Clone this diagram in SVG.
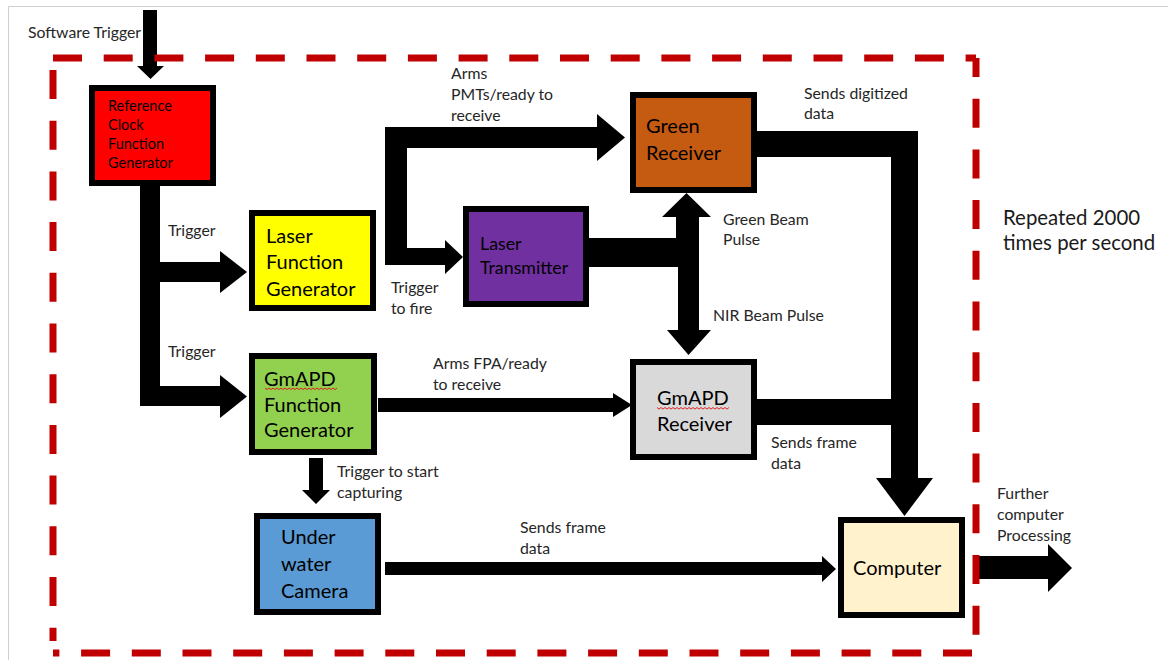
<svg xmlns="http://www.w3.org/2000/svg" width="1168" height="660" viewBox="0 0 1168 660">
  <style>
    .box { stroke: #000; stroke-width: 6; }
    .conn { fill: #000; }
    .bt { font-family: Lato, "Open Sans", "Liberation Sans", sans-serif; font-size: 20px; fill: #000; }
    .sm { font-family: Lato, "Open Sans", "Liberation Sans", sans-serif; font-size: 14.5px; fill: #000; }
    .lbl { font-family: Lato, "Open Sans", "Liberation Sans", sans-serif; font-size: 15.8px; fill: #262626; }
    .big { font-family: Lato, "Open Sans", "Liberation Sans", sans-serif; font-size: 20.4px; fill: #1a1a1a; }
    .dash { stroke: #C00000; stroke-width: 7; fill: none; stroke-dasharray: 29 21.7; }
    .squig { stroke: #E02020; stroke-width: 1; fill: none; }
  </style>

  <rect width="1168" height="660" fill="#fff"/>
  <path d="M8.5,660 V6.5 H1168" stroke="#cfcfcf" stroke-width="1" fill="none"/>

  <!-- connectors: thick block arrows -->
  <g id="connectors" class="conn">
    <path d="M143,10 H157 V66 H164 L150.5,79 L137,66 H143 Z"/>
    <path d="M140,186 H160 V262 H220 V251 L247,272 L220,293 V282 H160 V386 H220 V375 L247,396.5 L220,418 V406 H140 Z"/>
    <path d="M385,127 H597 V114 L625,137.5 L597,161 V148 H407 V248 H445 V240 L463,257 L445,274 V265 H385 Z"/>
    <path d="M589,238 H676 V217 H662 L686.5,193 L711,217 H699 V330 H711 L688.5,355 L667,330 H678 V267 H589 Z"/>
    <path d="M378,398 H613 V393 L632,405 L613,417 V412 H378 Z"/>
    <path d="M757,131 H918 V478 H933 L904.5,516 L876,478 H891 V157 H757 Z"/>
    <rect x="757" y="399" width="135" height="26"/>
    <path d="M309,458 H323 V490 H330 L316,504 L302,490 H309 Z"/>
    <path d="M385,562 H822 V556 L836,569 L822,582 V575 H385 Z"/>
    <path d="M975,556 H1048 V544 L1072,568 L1048,592 V579 H975 Z"/>
  </g>

  <!-- nodes -->
  <g id="ref-clock">
    <rect class="box" x="92" y="88" width="121" height="95" fill="#FF0000"/>
    <text class="sm" x="108" y="110.5">Reference</text>
    <text class="sm" x="108" y="129.5">Clock</text>
    <text class="sm" x="108" y="148.5">Function</text>
    <text class="sm" x="108" y="167.5">Generator</text>
  </g>

  <g id="laser-fg">
    <rect class="box" x="252" y="213" width="121" height="95" fill="#FFFF00"/>
    <text class="bt" x="266" y="242.7">Laser</text>
    <text class="bt" x="266" y="269.3">Function</text>
    <text class="bt" x="266" y="296">Generator</text>
  </g>

  <g id="gmapd-fg">
    <rect class="box" x="252" y="356" width="122" height="96" fill="#92D050"/>
    <text class="bt" x="264" y="385.7">GmAPD</text>
    <path class="squig" d="M265,388 l2,1.6 l2,-1.6 l2,1.6 l2,-1.6 l2,1.6 l2,-1.6 l2,1.6 l2,-1.6 l2,1.6 l2,-1.6 l2,1.6 l2,-1.6 l2,1.6 l2,-1.6 l2,1.6 l2,-1.6 l2,1.6 l2,-1.6 l2,1.6 l2,-1.6 l2,1.6 l2,-1.6 l2,1.6 l2,-1.6 l2,1.6 l2,-1.6 l2,1.6 l2,-1.6 l2,1.6 l2,-1.6 l2,1.6 l2,-1.6 l2,1.6 l2,-1.6 l2,1.6 l2,-1.6"/>
    <text class="bt" x="264" y="411.7">Function</text>
    <text class="bt" x="264" y="437.3">Generator</text>
  </g>

  <g id="laser-transmitter">
    <rect class="box" x="466" y="209" width="120" height="95" fill="#7030A0"/>
    <text class="bt" x="480" y="250" style="font-size:17.8px">Laser</text>
    <text class="bt" x="480" y="274.3" style="font-size:17.8px">Transmitter</text>
  </g>

  <g id="green-receiver">
    <rect class="box" x="633" y="95" width="121" height="95" fill="#C55A11"/>
    <text class="bt" x="646" y="133.3">Green</text>
    <text class="bt" x="646" y="160">Receiver</text>
  </g>

  <g id="gmapd-receiver">
    <rect class="box" x="633" y="362" width="121" height="95" fill="#D9D9D9"/>
    <text class="bt" x="657" y="405">GmAPD</text>
    <path class="squig" d="M657,407.5 l2,1.6 l2,-1.6 l2,1.6 l2,-1.6 l2,1.6 l2,-1.6 l2,1.6 l2,-1.6 l2,1.6 l2,-1.6 l2,1.6 l2,-1.6 l2,1.6 l2,-1.6 l2,1.6 l2,-1.6 l2,1.6 l2,-1.6 l2,1.6 l2,-1.6 l2,1.6 l2,-1.6 l2,1.6 l2,-1.6 l2,1.6 l2,-1.6 l2,1.6 l2,-1.6 l2,1.6 l2,-1.6 l2,1.6 l2,-1.6 l2,1.6 l2,-1.6 l2,1.6 l2,-1.6"/>
    <text class="bt" x="657" y="431">Receiver</text>
  </g>

  <g id="camera">
    <rect class="box" x="257" y="516" width="121" height="96" fill="#5B9BD5"/>
    <text class="bt" x="281" y="544.3">Under</text>
    <text class="bt" x="281" y="570.7">water</text>
    <text class="bt" x="281" y="597.7">Camera</text>
  </g>

  <g id="computer">
    <rect class="box" x="841" y="520" width="121" height="95" fill="#FFF2CC"/>
    <text class="bt" x="853" y="575">Computer</text>
  </g>

  <!-- connector labels -->
  <g id="labels">
    <text class="lbl" x="28" y="38.3">Software Trigger</text>
    <text class="lbl" x="168" y="236">Trigger</text>
    <text class="lbl" x="168" y="357">Trigger</text>
    <text class="lbl" x="451" y="79.3">Arms</text>
    <text class="lbl" x="451" y="100">PMTs/ready to</text>
    <text class="lbl" x="451" y="120.7">receive</text>
    <text class="lbl" x="391" y="293.3">Trigger</text>
    <text class="lbl" x="391" y="314">to fire</text>
    <text class="lbl" x="723" y="224.5">Green Beam</text>
    <text class="lbl" x="723" y="245">Pulse</text>
    <text class="lbl" x="713" y="320.5">NIR Beam Pulse</text>
    <text class="lbl" x="804" y="99.3">Sends digitized</text>
    <text class="lbl" x="804" y="119.3">data</text>
    <text class="lbl" x="433" y="369">Arms FPA/ready</text>
    <text class="lbl" x="433" y="390">to receive</text>
    <text class="lbl" x="771" y="448.3">Sends frame</text>
    <text class="lbl" x="771" y="469.3">data</text>
    <text class="lbl" x="337" y="477.3">Trigger to start</text>
    <text class="lbl" x="337" y="497.7">capturing</text>
    <text class="lbl" x="520" y="533.3">Sends frame</text>
    <text class="lbl" x="520" y="554">data</text>
    <text class="lbl" x="997" y="499.3">Further</text>
    <text class="lbl" x="997" y="520">computer</text>
    <text class="lbl" x="997" y="541">Processing</text>
    <text class="big" x="1003" y="225">Repeated 2000</text>
    <text class="big" x="1003" y="250">times per second</text>
  </g>

  <!-- dashed boundary of the repeated cycle -->
  <g id="boundary">
    <line class="dash" x1="53" y1="58" x2="976" y2="58"/>
    <line class="dash" x1="53" y1="70" x2="53" y2="641"/>
    <line class="dash" x1="976" y1="58" x2="976" y2="653" stroke-dashoffset="10"/>
    <line class="dash" x1="972" y1="653" x2="53" y2="653"/>
  </g>
</svg>
